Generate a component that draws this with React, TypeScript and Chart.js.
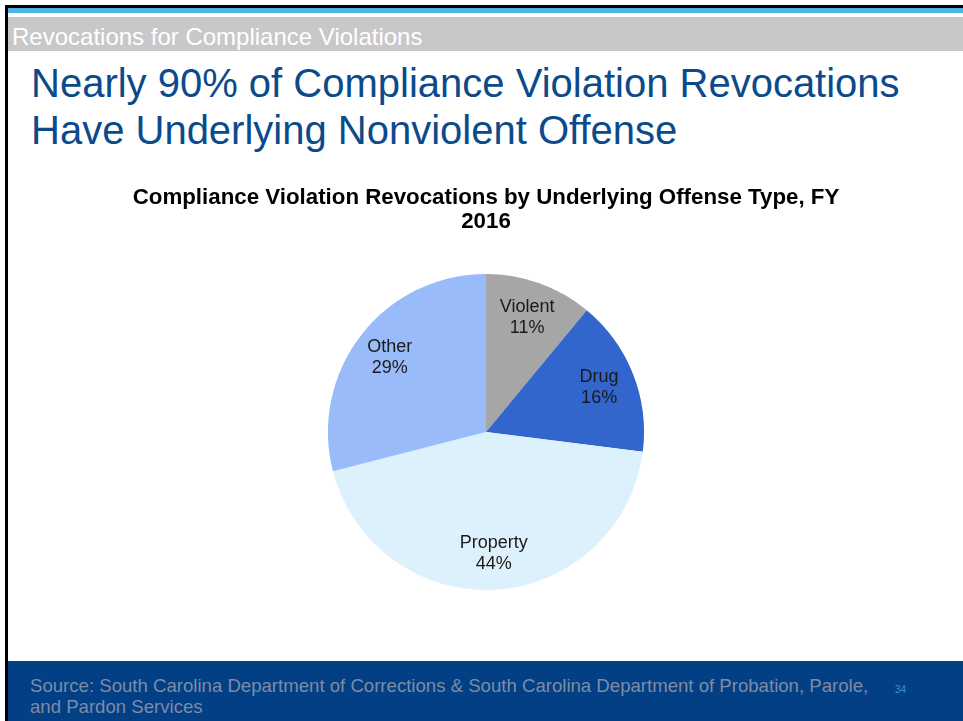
import React, { useEffect, useRef } from "react";
import { Chart, registerables } from "chart.js";

Chart.register(...registerables);

const categories = ["Violent", "Drug", "Property", "Other"];
const shares = [11, 16, 44, 29];
const sliceColors = ["#A6A6A6", "#3366CC", "#DDF1FD", "#99BBFA"];
const chartTitle = ["Compliance Violation Revocations by Underlying Offense Type, FY", "2016"];

const FONT = "'Liberation Sans', Arial, Helvetica, sans-serif";

const sliceLabels = {
  id: "sliceLabels",
  afterDatasetsDraw(chart: any) {
    const ctx = chart.ctx;
    const meta = chart.getDatasetMeta(0);
    ctx.save();
    ctx.font = `18px ${FONT}`;
    ctx.fillStyle = "#1A1A1A";
    ctx.textAlign = "center";
    ctx.textBaseline = "middle";
    meta.data.forEach((arc: any, i: number) => {
      const { x, y, startAngle, endAngle, outerRadius } = arc.getProps(
        ["x", "y", "startAngle", "endAngle", "outerRadius"],
        true
      );
      const mid = (startAngle + endAngle) / 2;
      const r = outerRadius * 0.77;
      const cx = x + Math.cos(mid) * r;
      const cy = y + Math.sin(mid) * r;
      ctx.fillText(categories[i], cx, cy - 10.5);
      ctx.fillText(`${shares[i]}%`, cx, cy + 10.5);
    });
    ctx.restore();
  },
};

function PieChart() {
  const ref = useRef<HTMLCanvasElement | null>(null);
  useEffect(() => {
    if (!ref.current) return;
    const chart = new Chart(ref.current, {
      type: "pie",
      data: {
        labels: categories,
        datasets: [
          {
            data: shares,
            backgroundColor: sliceColors,
            borderWidth: 0,
          },
        ],
      },
      options: {
        animation: false,
        responsive: false,
        maintainAspectRatio: false,
        layout: { padding: 0 },
        plugins: {
          legend: { display: false },
          tooltip: { enabled: false },
          title: {
            display: true,
            text: chartTitle,
            color: "#000000",
            font: { family: FONT, size: 22.3, weight: "bold", lineHeight: 1.08 },
            padding: { top: 6, bottom: 39.8 },
          },
        },
      },
      plugins: [sliceLabels],
    });
    return () => chart.destroy();
  }, []);
  return (
    <canvas
      ref={ref}
      width={800}
      height={410}
      style={{ position: "absolute", left: 86, top: 180, width: 800, height: 410 }}
    />
  );
}

export default function App() {
  return (
    <div
      style={{
        position: "fixed",
        left: 0,
        top: 0,
        width: 963,
        height: 721,
        background: "#FFFFFF",
        overflow: "hidden",
        fontFamily: FONT,
      }}
    >
      <div style={{ position: "absolute", left: 5, top: 5, width: 958, height: 3, background: "#000" }} />
      <div style={{ position: "absolute", left: 5, top: 5, width: 3, height: 716, background: "#000" }} />
      <div style={{ position: "absolute", left: 8, top: 8, width: 955, height: 5, background: "#4FB3E8" }} />
      <div style={{ position: "absolute", left: 8, top: 17, width: 955, height: 34, background: "#C8C8C8" }} />
      <div
        style={{
          position: "absolute",
          left: 12,
          top: 17,
          height: 34,
          lineHeight: "40px",
          fontSize: 24,
          color: "#FFFFFF",
          whiteSpace: "nowrap",
        }}
      >
        Revocations for Compliance Violations
      </div>
      <div
        style={{
          position: "absolute",
          left: 31,
          top: 60,
          fontSize: 40,
          lineHeight: "47px",
          color: "#0B4A8B",
          whiteSpace: "nowrap",
        }}
      >
        Nearly 90% of Compliance Violation Revocations
        <br />
        Have Underlying Nonviolent Offense
      </div>
      <PieChart />
      <div style={{ position: "absolute", left: 8, top: 661, width: 955, height: 60, background: "#023F85" }} />
      <div
        style={{
          position: "absolute",
          left: 30,
          top: 675,
          fontSize: 18.6,
          lineHeight: "21px",
          color: "#7D8CA6",
          whiteSpace: "nowrap",
        }}
      >
        Source: South Carolina Department of Corrections &amp; South Carolina Department of Probation, Parole,
        <br />
        and Pardon Services
      </div>
      <div
        style={{
          position: "absolute",
          left: 895,
          top: 684,
          fontSize: 10,
          color: "#3A8FD8",
        }}
      >
        34
      </div>
    </div>
  );
}
